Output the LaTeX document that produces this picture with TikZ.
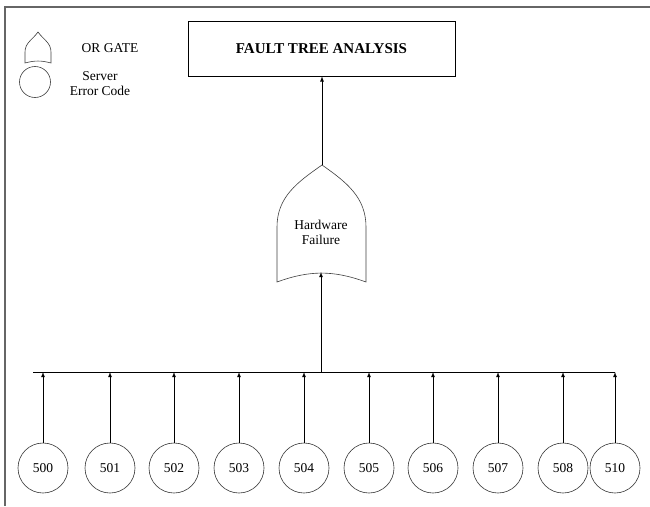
\documentclass[tikz,border=0pt]{standalone}
\usepackage{fontspec}
\setmainfont{Liberation Serif}
\usetikzlibrary{arrows}

\tikzset{
  code/.style={draw=black!80, circle, minimum size=50pt, inner sep=0pt, line width=0.6pt, font=\fontsize{13.5}{15}\selectfont},
  wire/.style={line width=0.8pt},
  gate/.style={draw=black!75, line width=0.6pt, fill=white}
}

\begin{document}
\begin{tikzpicture}[x=1pt, y=-1pt]
    \useasboundingbox (0,0) rectangle (650,506);
    % frame
    \draw[black!60, line width=2pt] (650,7) -- (5,7) -- (5,506);

    % legend
    \draw[gate] (25,63) -- (25,52) to[out=90,in=-125] (38,32) to[out=-55,in=90] (51,52) -- (51,63) to[out=165,in=15] cycle;
    \node[draw=black!75, circle, minimum size=31pt, inner sep=0pt, line width=0.6pt] (legcode) at (35,82) {};
    \node[font=\fontsize{13.5}{15}\selectfont] (legor) at (110,48) {OR GATE};
    \node[font=\fontsize{13.5}{15}\selectfont, align=center, inner sep=0pt] (legtxt) at (100,84) {Server\\Error Code};

    % top event
    \node[draw, line width=0.7pt, minimum width=267pt, minimum height=55pt, font=\fontsize{15}{17}\selectfont\bfseries] (title) at (321.5,48.5) {FAULT TREE ANALYSIS};

    % or gate
    \draw[gate] (277,282) -- (277,227) to[out=90,in=-145] (322,165) to[out=-35,in=90] (366,227) -- (366,282) to[out=160,in=20] cycle;
    \coordinate (gatetop) at (322,165);
    \coordinate (gatebot) at (321,272);
    \node[font=\fontsize{13.5}{15}\selectfont, align=center, inner sep=0pt] (hw) at (321,232) {Hardware\\Failure};
    \draw[wire, -latex] (gatetop) -- (gatetop |- title.south);

    % bus
    \coordinate (busL) at (33,372);
    \coordinate (busR) at (615,372);
    \draw[wire] (busL) -- (busR);
    \draw[wire, -latex] (gatebot |- busL) -- (gatebot);

    % error codes
    \foreach \px/\code in {43/500,110/501,174/502,239/503,304/504,369/505,433/506,498/507,563/508,615/510}{
        \node[code] (c\code) at (\px,468) {\code};
        \draw[wire, -latex] (c\code.north) -- (c\code.north |- busL);
    }
\end{tikzpicture}
\end{document}
